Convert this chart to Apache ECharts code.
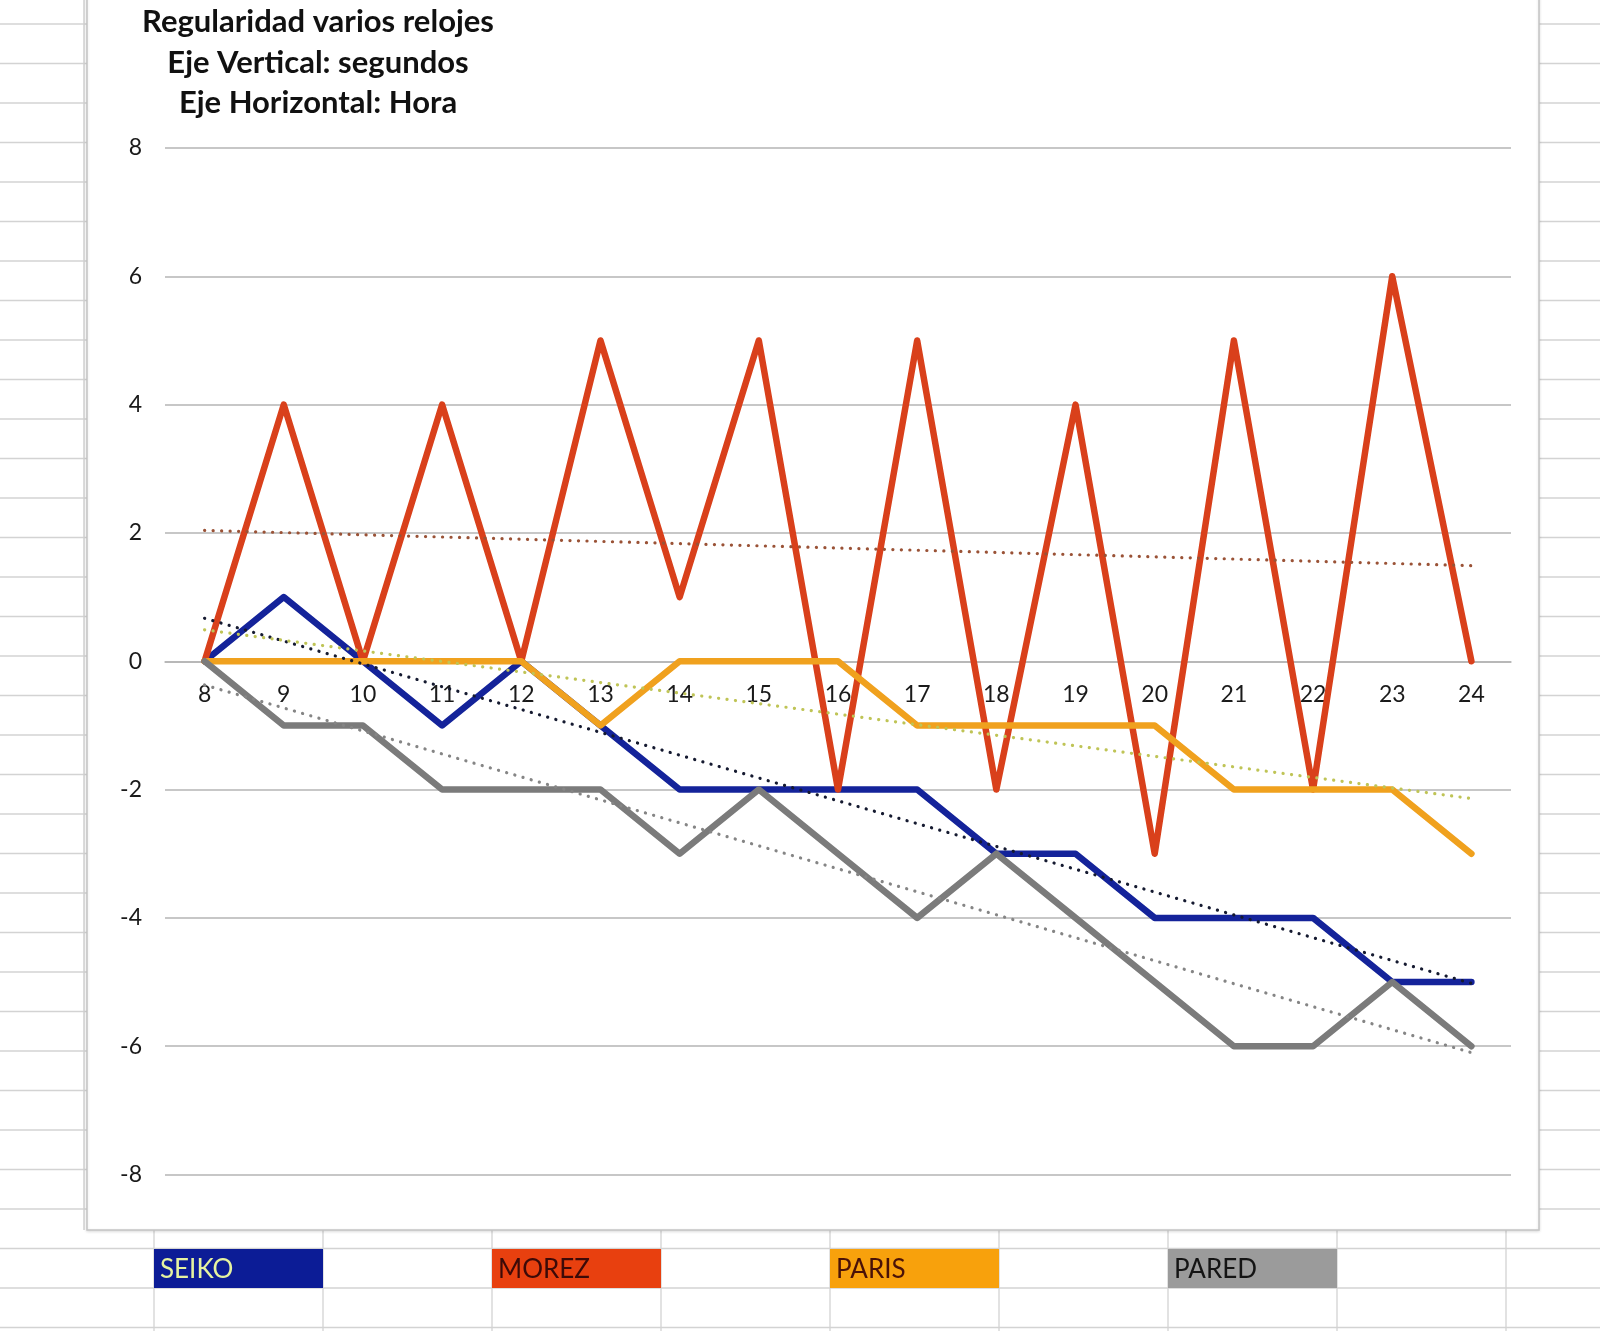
<!DOCTYPE html>
<html>
<head>
<meta charset="utf-8">
<script src="https://cdn.jsdelivr.net/npm/echarts@6/dist/echarts.min.js"></script>
<style>
html,body{margin:0;padding:0;background:#fff;}
#chart{width:1600px;height:1331px;}
</style>
</head>
<body>
<div id="chart"></div>
<script>
// ---- data ----
const hours = ['8','9','10','11','12','13','14','15','16','17','18','19','20','21','22','23','24'];
const seiko = [0, 1, 0, -1, 0, -1, -2, -2, -2, -2, -3, -3, -4, -4, -4, -5, -5];
const morez = [0, 4, 0, 4, 0, 5, 1, 5, -2, 5, -2, 4, -3, 5, -2, 6, 0];
const paris = [0, 0, 0, 0, 0, -1, 0, 0, 0, -1, -1, -1, -1, -2, -2, -2, -3];
const pared = [0, -1, -1, -2, -2, -2, -3, -2, -3, -4, -3, -4, -5, -6, -6, -5, -6];
// trend line endpoints (at hour 8 and hour 24)
const trendSeiko = [0.67, -5.02];
const trendMorez = [2.04, 1.49];
const trendParis = [0.49, -2.14];
const trendPared = [-0.37, -6.10];
const yTicks = [-8, -6, -4, -2, 0, 2, 4, 6, 8];
const legendNames = ['SEIKO', 'MOREZ', 'PARIS', 'PARED'];

const FONT = 'Lato, "Open Sans", sans-serif';
const colors = {SEIKO:'#14239a', MOREZ:'#d9401b', PARIS:'#f0a11e', PARED:'#7b7b7b'};
const trendColors = {SEIKO:'#151a30', MOREZ:'#9a5236', PARIS:'#bfc456', PARED:'#858585'};
const cellFill = {SEIKO:'#0c1c96', MOREZ:'#e8400f', PARIS:'#f8a10c', PARED:'#9b9b9b'};
const cellText = {SEIKO:'#e6f3a0', MOREZ:'#3c0a08', PARIS:'#4a1208', PARED:'#141414'};

// ---- layout ----
const GRID_TOP = 148, GRID_BOTTOM = 156.5, CHART_H = 1331;
const plotH = CHART_H - GRID_TOP - GRID_BOTTOM;
const zeroFromBottom = plotH * (0 - yTicks[0]) / (yTicks[yTicks.length-1] - yTicks[0]);

// ---- spreadsheet background (decoration) ----
const graphics = [];
const gridCol = '#d3d3d3';
for (let k = 0; k <= 33; k++) {
  const y = 24 + 39.5 * k;
  if (y > 1331) break;
  graphics.push({type:'line', silent:true, z:-20, shape:{x1:0, y1:y, x2:1600, y2:y}, style:{stroke:gridCol, lineWidth:1.3}});
}
[154, 323, 492, 661, 830, 999, 1168, 1337, 1506].forEach(x => {
  graphics.push({type:'line', silent:true, z:-20, shape:{x1:x, y1:1230, x2:x, y2:1331}, style:{stroke:gridCol, lineWidth:1.3}});
});
graphics.push({type:'line', silent:true, z:-20, shape:{x1:84, y1:0, x2:84, y2:1230}, style:{stroke:'#cfcfcf', lineWidth:1.5}});
// chart area box
graphics.push({type:'rect', silent:true, z:-10, shape:{x:87, y:-10, width:1452, height:1240},
  style:{fill:'#ffffff', stroke:'#c4c4c4', lineWidth:1.5, shadowBlur:3, shadowColor:'rgba(0,0,0,0.12)', shadowOffsetY:1}});
// colored legend cells
const cellX = [154, 492, 830, 1168];
legendNames.forEach((n, i) => {
  graphics.push({type:'rect', silent:true, z:-5, shape:{x:cellX[i], y:1249, width:169, height:39}, style:{fill:cellFill[n]}});
  graphics.push({type:'text', silent:true, z:-4, style:{text:n, x:cellX[i] + 6, y:1270, verticalAlign:'middle', align:'left',
    font:'26px ' + FONT, fill:cellText[n]}});
});

function lineSeries(name, data) {
  return {name, type:'line', data, symbol:'none', z:3,
    lineStyle:{color:colors[name], width:6.5, cap:'round', join:'round'},
    itemStyle:{color:colors[name]}};
}
function trendSeries(name, ends) {
  return {name: name + ' trend', type:'line', data:[[hours[0], ends[0]], [hours[hours.length-1], ends[1]]],
    symbol:'none', z:5,
    lineStyle:{color:trendColors[name], width:3.2, type:[0.1, 8.4], cap:'round'}};
}

const chart = echarts.init(document.getElementById('chart'));
chart.setOption({
  animation:false,
  backgroundColor:'#ffffff',
  title:{
    text:'Regularidad varios relojes\nEje Vertical: segundos\nEje Horizontal: Hora',
    left:318, top:2, padding:0, textAlign:'center',
    textStyle:{fontFamily:FONT, fontWeight:'bold', fontSize:31, lineHeight:40.5, color:'#111'}
  },
  graphic:graphics,
  grid:{left:165, right:89, top:GRID_TOP, bottom:GRID_BOTTOM, containLabel:false},
  xAxis:{
    type:'category', data:hours, boundaryGap:true,
    offset:-zeroFromBottom,
    axisLine:{show:true, onZero:false, lineStyle:{color:'#b4b4b4', width:1.5}},
    axisTick:{show:false},
    axisLabel:{margin:22, fontFamily:FONT, fontSize:23, color:'#1a1a1a', interval:0},
    splitLine:{show:false}
  },
  yAxis:{
    type:'value', min:yTicks[0], max:yTicks[yTicks.length-1], interval:2,
    axisLine:{show:false}, axisTick:{show:false},
    axisLabel:{margin:23, fontFamily:FONT, fontSize:23, color:'#1a1a1a'},
    splitLine:{lineStyle:{color:'#b4b4b4', width:1.5}}
  },
  series:[
    lineSeries('SEIKO', seiko),
    lineSeries('MOREZ', morez),
    lineSeries('PARIS', paris),
    lineSeries('PARED', pared),
    trendSeries('SEIKO', trendSeiko),
    trendSeries('MOREZ', trendMorez),
    trendSeries('PARIS', trendParis),
    trendSeries('PARED', trendPared)
  ]
});
</script>
</body>
</html>
